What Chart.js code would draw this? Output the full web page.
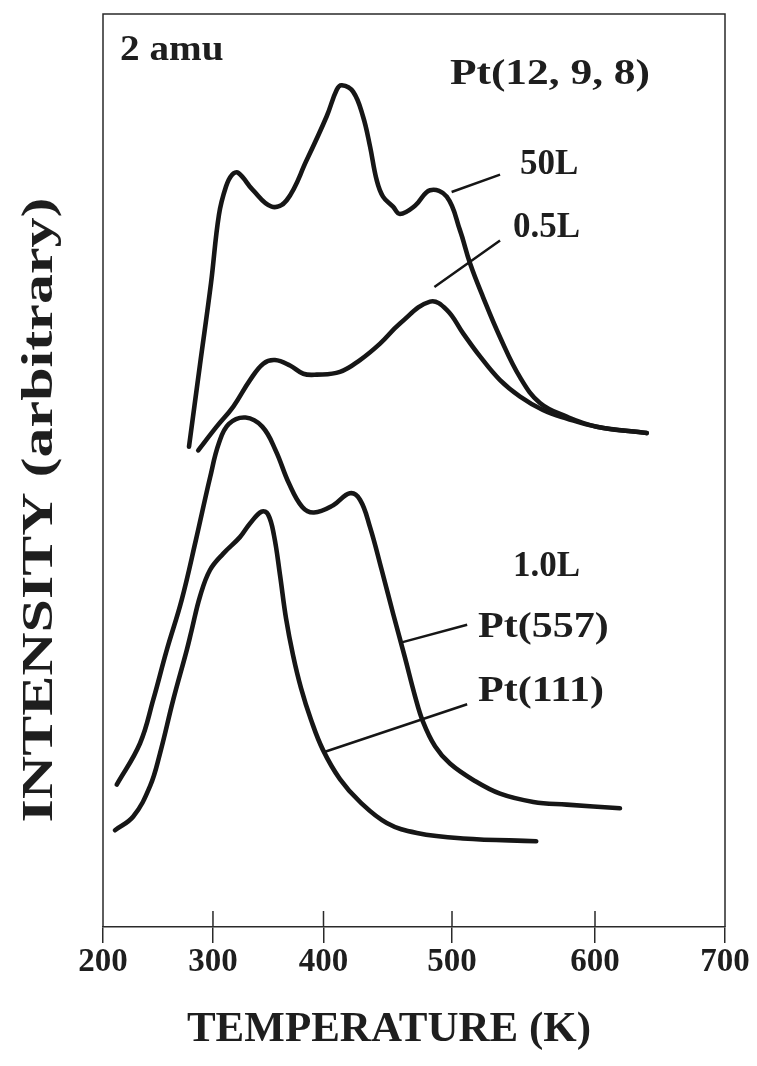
<!DOCTYPE html>
<html lang="en">
<head>
<meta charset="UTF-8">
<title>2 amu desorption</title>
<script src="https://cdn.jsdelivr.net/npm/chart.js@4"></script>
<style>
  html, body { margin: 0; padding: 0; background: #fff; }
</style>
</head>
<body>
<canvas id="tpd" width="757" height="1066"></canvas>
<script>
// Temperature (K) and intensity (arbitrary units) for each trace
const temp50L = [278.2, 288.2, 298.2, 305.4, 311.8, 317.3, 322.9, 336.2, 353.1, 366.7, 384.8, 402.5, 410.3, 414.2, 423.0, 430.7, 436.2, 441.4, 446.3, 454.1, 459.5, 471.2, 482.9, 495.9, 505.6, 512.6, 521.7, 533.6, 547.6, 561.5, 580.2, 601.3, 639.8];
const int50L  = [52.6, 61.6, 70.5, 78.0, 81.1, 82.4, 82.6, 80.7, 78.9, 79.6, 84.0, 88.8, 91.7, 92.2, 91.5, 88.8, 85.5, 81.8, 80.0, 78.9, 78.1, 79.0, 80.7, 80.0, 76.3, 72.7, 69.0, 64.6, 60.2, 57.4, 55.9, 54.8, 54.1];

const temp05L = [286.6, 303.3, 318.4, 333.5, 345.5, 356.1, 369.7, 381.7, 393.8, 412.8, 428.4, 444.0, 459.5, 482.9, 495.9, 507.9, 519.6, 533.6, 547.6, 563.9, 580.2, 601.3, 639.8];
const int05L  = [52.2, 54.8, 57.0, 59.9, 61.7, 62.1, 61.5, 60.6, 60.5, 60.8, 62.1, 63.9, 66.1, 68.5, 67.6, 65.0, 62.5, 59.9, 58.1, 56.6, 55.7, 54.8, 54.1];

const temp557 = [212.5, 233.6, 245.7, 257.9, 271.5, 284.5, 297.3, 305.4, 314.4, 329.5, 344.6, 356.7, 368.7, 380.8, 391.4, 407.6, 420.5, 428.4, 436.2, 445.3, 454.4, 463.4, 471.2, 477.4, 486.8, 498.4, 514.9, 533.6, 556.9, 580.2, 619.2];
const int557  = [15.6, 20.1, 24.9, 30.3, 35.8, 42.4, 49.2, 53.0, 55.1, 55.8, 54.8, 52.2, 48.6, 46.0, 45.4, 46.2, 47.5, 46.8, 43.8, 39.1, 34.2, 29.5, 25.3, 22.5, 19.8, 17.9, 16.1, 14.6, 13.7, 13.4, 13.0];

const temp111 = [210.9, 227.5, 242.7, 251.8, 263.9, 276.1, 280.6, 288.2, 297.3, 309.3, 324.4, 333.5, 344.1, 349.8, 355.2, 360.6, 366.1, 372.4, 379.6, 388.7, 399.5, 412.8, 428.4, 449.2, 472.7, 507.7, 558.9];
const int111  = [10.6, 12.1, 15.4, 19.0, 24.9, 30.3, 32.5, 36.2, 39.1, 40.9, 42.7, 44.2, 45.5, 45.2, 42.9, 38.6, 33.8, 29.8, 26.2, 22.7, 19.4, 16.2, 13.7, 11.4, 10.3, 9.7, 9.4];

// Temperature axis ticks; the printed axis is not evenly divided,
// so each tick sits at its own fraction of the axis length
const tempTicks = [200, 300, 400, 500, 600, 700];
const tickStops = [0, 0.1768, 0.3545, 0.5611, 0.7910, 1];

// Labels and leader lines, in (K, intensity); stretch widens the type
const labels = [
  { text: '2 amu',        t: 215.5, i: 95.9, stretch: 1.12 },
  { text: 'Pt(12, 9, 8)', t: 498.4, i: 93.3, stretch: 1.24 },
  { text: '50L',          t: 547.6, i: 83.5, stretch: 1 },
  { text: '0.5L',         t: 542.7, i: 76.6, stretch: 1 },
  { text: '1.0L',         t: 542.7, i: 39.4, stretch: 1 },
  { text: 'Pt(557)',      t: 518.2, i: 32.7, stretch: 1.2 },
  { text: 'Pt(111)',      t: 518.2, i: 25.7, stretch: 1.2 }
];
const leaders = [
  [[499.7, 80.5], [533.6, 82.4]],
  [[486.3, 70.1], [533.6, 75.2]],
  [[461.6, 31.2], [510.6, 33.1]],
  [[401.2, 19.2], [510.6, 24.4]]
];

function tempToDecimal(v) {
  const n = tempTicks.length;
  let k = 1;
  while (k < n - 1 && v > tempTicks[k]) k++;
  const f = (v - tempTicks[k - 1]) / (tempTicks[k] - tempTicks[k - 1]);
  return tickStops[k - 1] + f * (tickStops[k] - tickStops[k - 1]);
}
function decimalToTemp(d) {
  const n = tickStops.length;
  let k = 1;
  while (k < n - 1 && d > tickStops[k]) k++;
  const f = (d - tickStops[k - 1]) / (tickStops[k] - tickStops[k - 1]);
  return tempTicks[k - 1] + f * (tempTicks[k] - tempTicks[k - 1]);
}

// linear scale with piecewise tick spacing
class StopScale extends Chart.LinearScale {
  getPixelForValue(value) {
    return value === null ? NaN : this.getPixelForDecimal(tempToDecimal(value));
  }
  getValueForPixel(pixel) {
    return decimalToTemp(this.getDecimalForPixel(pixel));
  }
}
StopScale.id = 'stops';
StopScale.defaults = Chart.LinearScale.defaults;
Chart.register(StopScale);

const ink = '#161616';
const serif = 'Liberation Serif, Times New Roman, serif';

function trace(ts, is) {
  return {
    data: ts.map((t, k) => ({ x: t, y: is[k] })),
    borderColor: ink,
    borderWidth: 4.6,
    borderCapStyle: 'round',
    borderJoinStyle: 'round',
    pointRadius: 0,
    fill: false,
    tension: 0.4
  };
}

function stretchedText(ctx, text, px, py, sx) {
  ctx.save();
  ctx.translate(px, py);
  ctx.scale(sx, 1);
  ctx.fillText(text, 0, 0);
  ctx.restore();
}

const framePlugin = {
  id: 'frame',
  afterDatasetsDraw(chart) {
    const { ctx, chartArea: a, scales: { x, y } } = chart;
    ctx.save();
    ctx.strokeStyle = '#2a2a2a';
    ctx.lineWidth = 1.5;
    ctx.beginPath();
    ctx.moveTo(a.left, a.bottom);
    ctx.lineTo(a.left, a.top);
    ctx.lineTo(a.right, a.top);
    ctx.lineTo(a.right, a.bottom);
    // inner half of the tick marks
    x.ticks.forEach((t, k) => {
      const px = x.getPixelForTick(k);
      ctx.moveTo(px, a.bottom);
      ctx.lineTo(px, a.bottom - 16);
    });
    ctx.stroke();

    ctx.strokeStyle = ink;
    ctx.lineWidth = 2.5;
    ctx.beginPath();
    leaders.forEach(([p, q]) => {
      ctx.moveTo(x.getPixelForValue(p[0]), y.getPixelForValue(p[1]));
      ctx.lineTo(x.getPixelForValue(q[0]), y.getPixelForValue(q[1]));
    });
    ctx.stroke();

    ctx.fillStyle = '#1e1e1e';
    ctx.font = 'bold 35px ' + serif;
    ctx.textAlign = 'left';
    ctx.textBaseline = 'middle';
    labels.forEach(l => {
      stretchedText(ctx, l.text, x.getPixelForValue(l.t), y.getPixelForValue(l.i), l.stretch);
    });

    // axis titles
    ctx.textAlign = 'center';
    ctx.font = 'bold 43px ' + serif;
    ctx.fillText('TEMPERATURE (K)', 389, 1030);

    const yTitle = 'INTENSITY (arbitrary)';
    ctx.font = 'bold 44px ' + serif;
    const sy = 625 / ctx.measureText(yTitle).width;
    ctx.translate(41, 510);
    ctx.rotate(-Math.PI / 2);
    stretchedText(ctx, yTitle, 0, 0, sy);
    ctx.restore();
  }
};

new Chart(document.getElementById('tpd'), {
  type: 'line',
  data: {
    datasets: [
      trace(temp50L, int50L),
      trace(temp05L, int05L),
      trace(temp557, int557),
      trace(temp111, int111)
    ]
  },
  options: {
    responsive: false,
    devicePixelRatio: 1,
    animation: false,
    layout: { padding: { top: 14, right: 32, left: 0, bottom: 0 } },
    plugins: { legend: { display: false }, tooltip: { enabled: false } },
    scales: {
      x: {
        type: 'stops',
        min: 200,
        max: 700,
        ticks: {
          stepSize: 100,
          autoSkip: false,
          maxRotation: 0,
          padding: 0,
          color: '#1e1e1e',
          font: { family: serif, size: 33, weight: 'bold' }
        },
        grid: { drawOnChartArea: false, drawTicks: true, tickLength: 16, color: '#2a2a2a', lineWidth: 1.5 },
        border: { display: true, color: '#2a2a2a', width: 1.5 },
        afterFit(scale) { scale.height = 139; }
      },
      y: {
        min: 0,
        max: 100,
        ticks: { display: false },
        grid: { display: false },
        border: { display: false },
        afterFit(scale) { scale.width = 103; }
      }
    }
  },
  plugins: [framePlugin]
});
</script>
</body>
</html>
